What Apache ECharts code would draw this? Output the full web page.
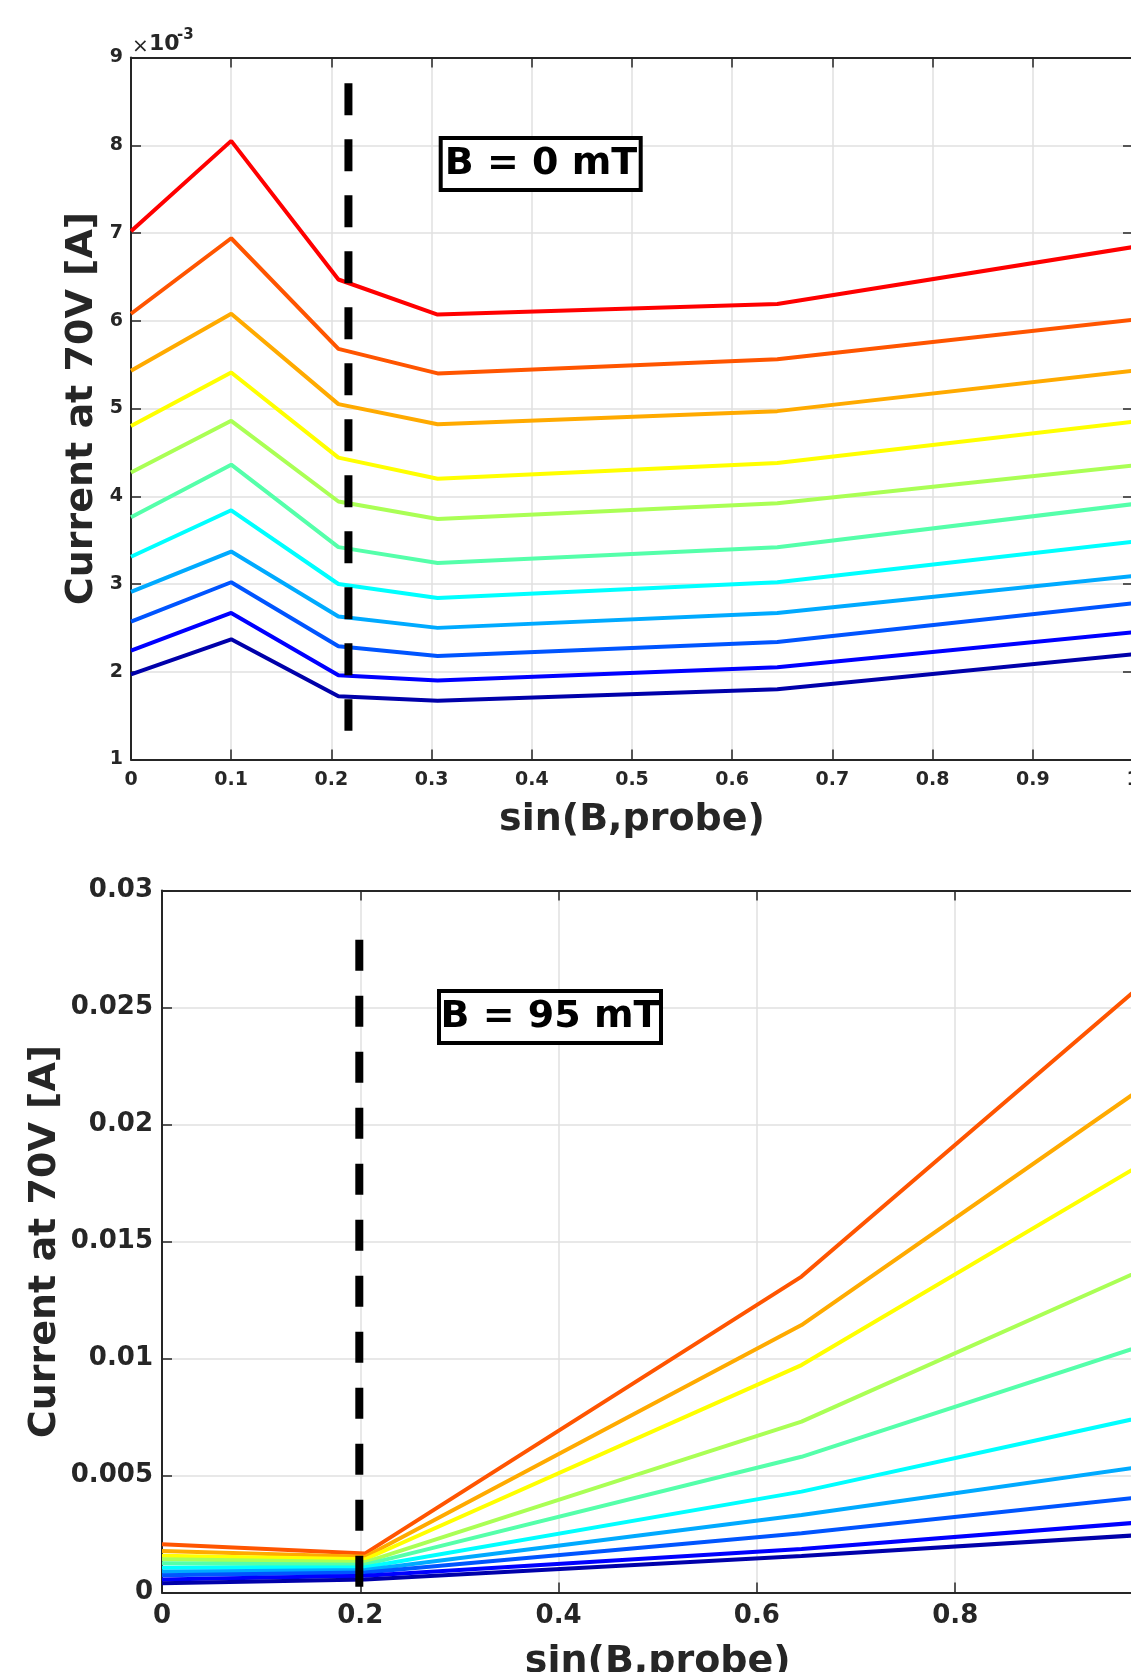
<!DOCTYPE html>
<html>
<head>
<meta charset="utf-8">
<script src="https://cdn.jsdelivr.net/npm/echarts@6/dist/echarts.min.js"></script>
<style>
html,body{margin:0;padding:0;background:#fff;overflow:hidden;}
#chart{width:1131px;height:1672px;}
</style>
</head>
<body>
<div id="chart"></div>
<script>
// ---------- DATA ----------
// Top panel (B = 0 mT), current in units of 1e-3 A
const topX = [0, 0.1, 0.207, 0.306, 0.645, 1.0];
const topRed        = [7.02, 8.05, 6.47, 6.07, 6.19, 6.84];
const topOrangeRed  = [6.08, 6.94, 5.68, 5.40, 5.56, 6.01];
const topOrange     = [5.43, 6.08, 5.05, 4.82, 4.97, 5.43];
const topYellow     = [4.80, 5.41, 4.44, 4.20, 4.38, 4.85];
const topYellowGreen= [4.27, 4.86, 3.94, 3.74, 3.92, 4.35];
const topGreenCyan  = [3.76, 4.36, 3.42, 3.24, 3.42, 3.91];
const topCyan       = [3.31, 3.84, 3.00, 2.84, 3.02, 3.48];
const topLightBlue  = [2.91, 3.37, 2.63, 2.50, 2.67, 3.09];
const topMidBlue    = [2.57, 3.02, 2.29, 2.18, 2.34, 2.78];
const topBlue       = [2.24, 2.67, 1.96, 1.90, 2.05, 2.45];
const topDarkBlue   = [1.97, 2.37, 1.72, 1.67, 1.80, 2.20];
const topDashX = 0.217;
const topDashY = [8.706, 1.328];

// Bottom panel (B = 95 mT), current in A
const botX = [0, 0.205, 0.645, 1.0];
const botOrangeRed  = [0.00206, 0.00167, 0.01350, 0.0264];
const botOrange     = [0.00177, 0.00153, 0.01143, 0.0219];
const botYellow     = [0.00157, 0.00142, 0.00972, 0.0186];
const botYellowGreen= [0.00142, 0.00130, 0.00730, 0.0140];
const botGreenCyan  = [0.00125, 0.00119, 0.00580, 0.0107];
const botCyan       = [0.00106, 0.00108, 0.00431, 0.0076];
const botLightBlue  = [0.00089, 0.00096, 0.00331, 0.00545];
const botMidBlue    = [0.00074, 0.00085, 0.00253, 0.00413];
const botBlue       = [0.00056, 0.00072, 0.00186, 0.00304];
const botDarkBlue   = [0.00039, 0.00056, 0.00156, 0.00249];
const botDashX = 0.199;
const botDashY = [0.0279, 0.00025];

const jetColors = ['#FF0000','#FF5500','#FFAA00','#FFFF00','#AAFF55','#55FFAA','#00FFFF','#00AAFF','#0055FF','#0000FF','#0000AA'];
const topSets = [topRed, topOrangeRed, topOrange, topYellow, topYellowGreen, topGreenCyan, topCyan, topLightBlue, topMidBlue, topBlue, topDarkBlue];
const botSets = [botOrangeRed, botOrange, botYellow, botYellowGreen, botGreenCyan, botCyan, botLightBlue, botMidBlue, botBlue, botDarkBlue];
const botColors = jetColors.slice(1);

const xLabel = 'sin(B,probe)';
const yLabel = 'Current at 70V [A]';
const topNote = 'B = 0 mT';
const botNote = 'B = 95 mT';

// ---------- STYLE ----------
const FONT = 'DejaVu Sans';
const AX = '#262626';
const GRID = '#e0e0e0';

function pairs(xs, ys){ return xs.map((x,i)=>[x, ys[i]]); }
function fmt(d){ return v => { const s = +v.toFixed(d); return String(s); }; }

function mainAxis(opts){
  return Object.assign({
    type:'value',
    axisLine:{show:true, onZero:false, lineStyle:{color:AX, width:2}},
    axisTick:{show:true, inside:true, length:10, lineStyle:{color:AX, width:1.5}},
    splitLine:{show:true, lineStyle:{color:GRID, width:1.5}},
    nameLocation:'middle',
    nameMoveOverlap:false,
    nameTextStyle:{fontFamily:FONT, fontWeight:'bold', fontSize:38, color:AX}
  }, opts);
}
function mirrorAxis(opts){
  return Object.assign({
    type:'value',
    axisLine:{show:true, onZero:false, lineStyle:{color:AX, width:2}},
    axisTick:{show:true, inside:true, length:10, lineStyle:{color:AX, width:1.5}},
    axisLabel:{show:false},
    splitLine:{show:false}
  }, opts);
}

const series = [];
topSets.forEach((s,i)=>series.push({
  type:'line', xAxisIndex:0, yAxisIndex:0, data:pairs(topX, s), showSymbol:false,
  lineStyle:{color:jetColors[i], width:4}, itemStyle:{color:jetColors[i]}, z:2
}));
botSets.forEach((s,i)=>series.push({
  type:'line', xAxisIndex:2, yAxisIndex:2, data:pairs(botX, s), showSymbol:false,
  lineStyle:{color:botColors[i], width:4}, itemStyle:{color:botColors[i]}, z:2
}));
series.push({
  type:'line', xAxisIndex:0, yAxisIndex:0, showSymbol:false, z:5,
  data:[[topDashX, topDashY[0]],[topDashX, topDashY[1]]],
  lineStyle:{color:'#000', width:8, type:[32,24], cap:'butt'}
});
series.push({
  type:'line', xAxisIndex:2, yAxisIndex:2, showSymbol:false, z:5,
  data:[[botDashX, botDashY[0]],[botDashX, botDashY[1]]],
  lineStyle:{color:'#000', width:8, type:[31,25], cap:'butt'}
});

const option = {
  animation:false,
  backgroundColor:'#fff',
  grid:[
    {left:131, top:57.5, width:1002, height:702, outerBoundsMode:'none', containLabel:false},
    {left:162, top:890.5, width:991.5, height:702, outerBoundsMode:'none', containLabel:false}
  ],
  xAxis:[
    mainAxis({gridIndex:0, min:0, max:1, interval:0.1, position:'bottom',
      name:xLabel, nameGap:42,
      axisLabel:{fontFamily:FONT, fontWeight:'bold', fontSize:19, color:AX, margin:11, formatter:fmt(1)}}),
    mirrorAxis({gridIndex:0, min:0, max:1, interval:0.1, position:'top'}),
    mainAxis({gridIndex:1, min:0, max:1, interval:0.2, position:'bottom',
      name:xLabel, nameGap:51,
      axisLabel:{fontFamily:FONT, fontWeight:'bold', fontSize:26, color:AX, margin:11, formatter:fmt(1)}}),
    mirrorAxis({gridIndex:1, min:0, max:1, interval:0.2, position:'top'})
  ],
  yAxis:[
    mainAxis({gridIndex:0, min:1, max:9, interval:1, position:'left',
      name:yLabel, nameGap:30,
      axisLabel:{fontFamily:FONT, fontWeight:'bold', fontSize:19, color:AX, margin:8, formatter:fmt(0)}}),
    mirrorAxis({gridIndex:0, min:1, max:9, interval:1, position:'right'}),
    mainAxis({gridIndex:1, min:0, max:0.03, interval:0.005, position:'left',
      name:yLabel, nameGap:98,
      axisLabel:{fontFamily:FONT, fontWeight:'bold', fontSize:26, color:AX, margin:9, formatter:fmt(3)}}),
    mirrorAxis({gridIndex:1, min:0, max:0.03, interval:0.005, position:'right'})
  ],
  graphic:[
    {type:'text', left:132, top:37, z:10, style:{text:'×', font:'normal 20px "DejaVu Sans"', fill:AX}},
    {type:'text', left:149, top:33, z:10, style:{text:'10', font:'bold 22px "DejaVu Sans"', fill:AX}},
    {type:'text', left:177, top:28, z:10, style:{text:'-3', font:'bold 15px "DejaVu Sans"', fill:AX}},
    {type:'rect', z:10, shape:{x:440.7, y:138, width:200, height:52},
      style:{fill:'#fff', stroke:'#000', lineWidth:4}},
    {type:'text', z:11, x:541, y:164, style:{text:topNote, font:'bold 38px "DejaVu Sans"', fill:'#000', textAlign:'center', textVerticalAlign:'middle'}},
    {type:'rect', z:10, shape:{x:439, y:991, width:222, height:52},
      style:{fill:'#fff', stroke:'#000', lineWidth:4}},
    {type:'text', z:11, x:550, y:1017, style:{text:botNote, font:'bold 38px "DejaVu Sans"', fill:'#000', textAlign:'center', textVerticalAlign:'middle'}}
  ],
  series:series
};

const chart = echarts.init(document.getElementById('chart'), null, {renderer:'canvas'});
chart.setOption(option);
</script>
</body>
</html>
